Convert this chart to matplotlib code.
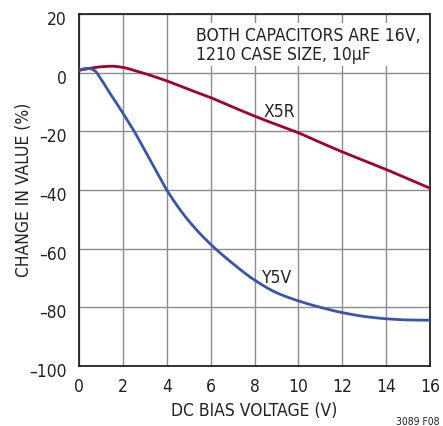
import matplotlib
matplotlib.use("Agg")
import matplotlib.pyplot as plt
import matplotlib.transforms as mtransforms
import numpy as np

plt.rcParams['font.family'] = ['DejaVu Sans']
plt.rcParams['font.stretch'] = 'condensed'

x5r_v = [0, 0.5, 1.0, 1.5, 2.0, 2.5, 3, 4, 5, 6, 7, 8, 9, 10, 11, 12, 13, 14, 15, 16]
x5r_c = [0.8, 1.5, 2.0, 2.2, 1.8, 0.8, -0.3, -2.8, -5.7, -8.5, -11.7, -14.8, -17.7, -20.5, -23.8, -27.0, -30.0, -33.0, -36.2, -39.4]

y5v_v = [0, 0.2, 0.42, 0.73, 0.96, 1.34, 1.8, 2.02, 2.48, 3, 3.5, 4, 5, 6, 7, 8, 9, 10, 11, 12, 13, 14, 15, 16]
y5v_c = [0.8, 1.3, 1.5, 0.6, -1.7, -6.2, -11.4, -14.0, -19.5, -26.5, -33.3, -40.0, -50.5, -58.5, -65.0, -70.7, -75.0, -77.8, -80.0, -81.8, -83.1, -83.9, -84.3, -84.4]

xticks = [0, 2, 4, 6, 8, 10, 12, 14, 16]
yticks = [-100, -80, -60, -40, -20, 0, 20]
ytick_labels = ['\u2013100', '\u201380', '\u201360', '\u201340', '\u201320', '0', '20']


def smooth(xs, ys):
    xs = np.asarray(xs, float); ys = np.asarray(ys, float)
    h = np.diff(xs); d = np.diff(ys) / h
    n = len(xs); m = np.zeros(n)
    for k in range(1, n-1):
        if d[k-1] * d[k] <= 0:
            m[k] = 0
        else:
            w1 = 2*h[k] + h[k-1]; w2 = h[k] + 2*h[k-1]
            m[k] = (w1 + w2) / (w1/d[k-1] + w2/d[k])
    m[0] = d[0]; m[-1] = d[-1]
    xx = np.linspace(xs[0], xs[-1], 800)
    yy = np.empty_like(xx)
    for i, xv in enumerate(xx):
        k = min(np.searchsorted(xs, xv, side='right') - 1, n-2)
        t = (xv - xs[k]) / h[k]
        h00 = 2*t**3 - 3*t**2 + 1; h10 = t**3 - 2*t**2 + t
        h01 = -2*t**3 + 3*t**2; h11 = t**3 - t**2
        yy[i] = h00*ys[k] + h10*h[k]*m[k] + h01*ys[k+1] + h11*h[k]*m[k+1]
    return xx, yy


W, H = 443, 427
fig = plt.figure(figsize=(W/100, H/100), dpi=100)
ax = fig.add_axes([79/W, 1 - 367/H, (430-79)/W, (367-15)/H])

xx, yy = smooth(x5r_v, x5r_c)
ax.plot(xx, yy, color='#a0002c', lw=2.0, zorder=3)
xx, yy = smooth(y5v_v, y5v_c)
ax.plot(xx, yy, color='#3a55a8', lw=2.0, zorder=3)

ax.set_xlim(0, 16)
ax.set_ylim(-100, 20)
ax.set_xticks(xticks)
ax.set_xticklabels([str(t) for t in xticks])
ax.set_yticks(yticks)
ax.set_yticklabels(ytick_labels)
ax.tick_params(axis='x', length=0, labelsize=12.5, colors='#222222', pad=8)
ax.tick_params(axis='y', length=0, labelsize=12.5, colors='#222222', pad=9)
shift = mtransforms.ScaledTranslation(0, -3/100, fig.dpi_scale_trans)
for lab in ax.get_yticklabels():
    lab.set_transform(lab.get_transform() + shift)
ax.grid(True, color='#8c8c8c', lw=1.0)
ax.set_axisbelow(True)
for s in ax.spines.values():
    s.set_color('#222222')
    s.set_linewidth(1.3)

fig.text(254/W, 1 - 411/H, 'DC BIAS VOLTAGE (V)', fontsize=12.5, color='#222222',
         ha='center', va='center')
fig.text(24/W, 1 - 190/H, 'CHANGE IN VALUE (%)', fontsize=12.5, color='#222222',
         ha='center', va='center', rotation=90)

ax.text(5.35, 16.0, 'BOTH CAPACITORS ARE 16V,\n1210 CASE SIZE, 10\u00b5F', fontsize=12.5,
        color='#222222', va='top', ha='left', linespacing=1.1,
        bbox=dict(facecolor='white', edgecolor='none', pad=2))
ax.text(8.39, -14.9, 'X5R', fontsize=12.5, color='#222222', ha='left', va='baseline')
ax.text(8.3, -71.2, 'Y5V', fontsize=12.5, color='#222222', ha='left', va='baseline')

fig.text(440/W, 1 - 422/H, '3089 F08', fontsize=7.5, color='#222222', ha='right', va='center')

fig.savefig('out.png', dpi=100)
